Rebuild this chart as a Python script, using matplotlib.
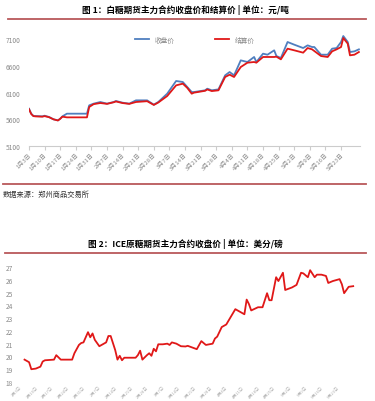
import numpy as np
import matplotlib
matplotlib.use('Agg')
import matplotlib.pyplot as plt
from matplotlib.lines import Line2D

plt.rcParams['font.family'] = ['Noto Sans CJK SC', 'DejaVu Sans']

# Chart 1: white sugar futures, days since 1月3日
sr_day = [0, 1, 2, 3, 6, 7, 9, 11, 13, 14, 15, 17, 26, 27, 29, 32, 35, 38, 39, 42,
          45, 48, 53, 56, 58, 62, 66, 69, 71, 73, 74, 79, 80, 82, 85, 88, 90, 92, 95, 98,
          101, 102, 105, 107, 110, 111, 113, 116, 119, 123, 125, 127, 128, 131, 134, 136,
          138, 140, 141, 143, 144, 146, 148]
sr_close = [5800, 5706, 5662, 5662, 5656, 5668, 5644, 5600, 5581, 5612, 5656, 5706, 5706,
            5862, 5894, 5925, 5894, 5925, 5944, 5912, 5894, 5956, 5956, 5875, 5925, 6081,
            6319, 6300, 6206, 6112, 6112, 6144, 6175, 6144, 6162, 6425, 6487, 6425, 6706,
            6675, 6769, 6675, 6831, 6812, 6894, 6787, 6750, 7050, 7000, 6937, 6987, 6956,
            6956, 6812, 6812, 6925, 6937, 7050, 7162, 7050, 6862, 6875, 6912]
sr_settle = [5790, 5700, 5660, 5655, 5650, 5660, 5640, 5600, 5578, 5610, 5650, 5637, 5637,
             5831, 5885, 5906, 5890, 5920, 5935, 5905, 5890, 5925, 5940, 5870, 5915, 6037,
             6237, 6269, 6190, 6081, 6100, 6135, 6160, 6130, 6144, 6394, 6437, 6394, 6581,
             6662, 6675, 6662, 6769, 6769, 6769, 6775, 6725, 6925, 6894, 6850, 6937, 6912,
             6881, 6787, 6769, 6875, 6912, 6956, 7125, 7019, 6800, 6812, 6862]

week_labels = ['1月3日', '1月10日', '1月17日', '1月24日', '1月31日', '2月7日', '2月14日',
               '2月21日', '2月28日', '3月7日', '3月14日', '3月21日', '3月28日', '4月4日',
               '4月11日', '4月18日', '4月25日', '5月2日', '5月9日', '5月16日', '5月23日']

# Chart 2: ICE raw sugar
ice_day = [2, 4, 5, 7, 9, 10, 11, 15, 16, 18, 23, 24, 26, 27, 28, 30, 31, 32, 33, 35,
           38, 39, 40, 42, 43, 44, 45, 46, 51, 52, 53, 54, 56, 57, 58, 59, 60, 61, 63, 65,
           66, 67, 69, 71, 73, 74, 78, 80, 82, 85, 86, 87, 89, 91, 95, 96, 99, 100, 101,
           102, 105, 107, 109, 110, 111, 113, 114, 116, 117, 120, 122, 124, 125, 127, 128,
           130, 131, 133, 135, 136, 138, 141, 142, 143, 145, 147]
ice_price = [19.75, 19.55, 19.0, 19.05, 19.2, 19.6, 19.7, 19.75, 20.1, 19.75, 19.75, 20.25,
             20.9, 21.05, 21.1, 21.9, 21.5, 21.8, 21.3, 20.8, 21.1, 21.6, 21.6, 20.5, 19.75,
             20.05, 19.7, 19.9, 19.9, 20.1, 20.45, 19.75, 20.1, 20.25, 20.05, 20.6, 20.4,
             20.95, 20.95, 21.0, 20.9, 21.1, 21.0, 20.8, 20.78, 20.83, 20.57, 21.2, 20.9,
             21.0, 21.4, 21.55, 22.3, 22.5, 23.7, 23.6, 23.3, 24.45, 24.1, 23.6, 23.85, 23.85,
             24.95, 24.4, 24.4, 26.2, 25.9, 26.55, 25.2, 25.4, 25.6, 26.55, 26.5, 26.2, 26.75,
             26.2, 26.4, 26.4, 26.3, 25.75, 25.9, 26.05, 25.65, 24.95, 25.45, 25.5]

W, H = 375, 402
fig = plt.figure(figsize=(W / 100, H / 100), dpi=100)
rule_color = '#b9585a'
grey = '#8a8a8a'


def box(left, top, right, bottom):
    return [left / W, 1 - bottom / H, (right - left) / W, (bottom - top) / H]


def hrule(y, x0, x1):
    fig.add_artist(Line2D([x0 / W, x1 / W], [1 - y / H, 1 - y / H], color=rule_color, lw=1.3))


# ---- figure 1
fig.text(185 / W, 1 - 10 / H, '图 1：白糖期货主力合约收盘价和结算价 | 单位：元/吨',
         ha='center', va='center', fontsize=6.2, fontweight='bold')
hrule(20, 8, 366)

ax1 = fig.add_axes(box(29, 35, 360, 147))
ticks = np.arange(len(week_labels)) * 7
ax1.plot(sr_day, sr_close, color='#4f7fbf', lw=1.3, label='收盘价')
ax1.plot(sr_day, sr_settle, color='#e01818', lw=1.3, label='结算价')
ax1.set_xlim(0, 148.5)
ax1.set_ylim(5100, 7200)
ax1.set_yticks([5100, 5600, 6100, 6600, 7100])
ax1.set_xticks(ticks)
ax1.set_xticklabels(week_labels, rotation=45, ha='right', rotation_mode='anchor')
for s in ['top', 'right', 'left']:
    ax1.spines[s].set_visible(False)
ax1.spines['bottom'].set_color('#cccccc')
ax1.tick_params(axis='x', colors='#cccccc', labelcolor=grey, labelsize=4.3, length=3, pad=1)
ax1.tick_params(axis='y', length=0, labelcolor=grey, labelsize=4.8, pad=6)
ax1.legend(loc='upper center', bbox_to_anchor=(0.5, 1.04), ncol=2, frameon=False,
           fontsize=4.8, handlelength=2.2, columnspacing=6, labelcolor=grey)

hrule(185, 3, 366)
fig.text(3 / W, 1 - 195 / H, '数据来源：郑州商品交易所', ha='left', va='center',
         fontsize=5.2, color='#333333')

# ---- figure 2
fig.text(185 / W, 1 - 244 / H, '图 2：ICE原糖期货主力合约收盘价 | 单位：美分/磅',
         ha='center', va='center', fontsize=6.2, fontweight='bold')
hrule(254, 5, 366)

ax2 = fig.add_axes(box(20, 268, 360, 383))
ax2.plot(ice_day, ice_price, color='#e01818', lw=1.3)
ax2.set_xlim(0, 150)
ax2.set_ylim(18, 27)
ax2.set_yticks(range(18, 28))
ax2.set_xticks(ticks)
ax2.set_xticklabels(week_labels, rotation=45, ha='right', rotation_mode='anchor')
for s in ax2.spines.values():
    s.set_visible(False)
ax2.tick_params(axis='x', length=0, labelcolor='#b0b0b0', labelsize=3.0, pad=2)
ax2.tick_params(axis='y', length=0, labelcolor=grey, labelsize=4.8, pad=5)

fig.savefig('out.png', dpi=100)
